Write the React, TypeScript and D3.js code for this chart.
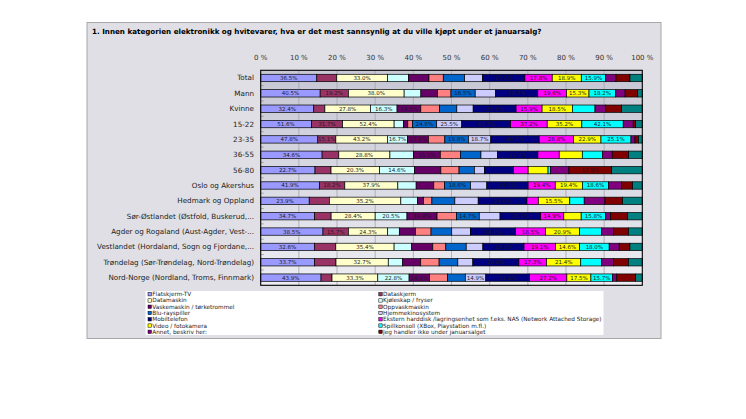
import * as d3 from "d3";

const title =
  "1. Innen kategorien elektronikk og hvitevarer, hva er det mest sannsynlig at du ville kjøpt under et januarsalg?";

const categories = [
  "Total",
  "Mann",
  "Kvinne",
  "15-22",
  "23-35",
  "36-55",
  "56-80",
  "Oslo og Akershus",
  "Hedmark og Oppland",
  "Sør-Østlandet (Østfold, Buskerud,...",
  "Agder og Rogaland (Aust-Agder, Vest-...",
  "Vestlandet (Hordaland, Sogn og Fjordane,...",
  "Trøndelag (Sør-Trøndelag, Nord-Trøndelag)",
  "Nord-Norge (Nordland, Troms, Finnmark)",
];

const seriesNames = [
  "Flatskjerm-TV",
  "Dataskjerm",
  "Datamaskin",
  "Kjøleskap / fryser",
  "Vaskemaskin / tørketrommel",
  "Oppvaskmaskin",
  "Blu-rayspiller",
  "Hjemmekinosystem",
  "Mobiltelefon",
  "Ekstern harddisk /lagringsenhet som f.eks. NAS (Network Attached Storage)",
  "Video / fotokamera",
  "Spillkonsoll (XBox, Playstation m.fl.)",
  "Annet, beskriv her:",
  "Jeg handler ikke under januarsalget",
  "Vet ikke",
];

const seriesColors = [
  "#9999FF", "#993366", "#FFFFCC", "#CCFFFF", "#660066",
  "#FF8080", "#0066CC", "#CCCCFF", "#000080", "#FF00FF",
  "#FFFF00", "#00FFFF", "#800080", "#800000", "#008080",
];

// one array per category, values in series order
const total = [36.5, 13.0, 33.0, 13.6, 13.4, 9.3, 13.9, 11.7, 27.5, 17.8, 18.9, 15.9, 6.7, 9.1, 8.0];
const mann = [40.5, 19.2, 38.0, 11.4, 11.4, 9.1, 16.5, 13.9, 28.7, 19.6, 15.3, 18.2, 6.4, 8.6, 3.1];
const kvinne = [32.4, 6.8, 27.8, 16.3, 14.5, 11.4, 10.6, 10.0, 26.2, 15.9, 18.5, 13.8, 6.6, 9.6, 12.7];
const age15 = [51.6, 31.7, 52.4, 9.5, 4.4, 4.8, 24.6, 25.5, 49.7, 37.2, 35.2, 42.1, 10.2, 2.4, 6.8];
const age23 = [47.8, 15.1, 43.2, 16.7, 17.6, 13.7, 19.8, 18.7, 40.5, 28.8, 22.9, 25.1, 3.4, 2.8, 3.3];
const age36 = [34.6, 9.4, 28.8, 13.2, 15.2, 11.3, 11.6, 9.4, 22.7, 12.0, 13.0, 11.3, 5.6, 9.2, 7.7];
const age56 = [22.7, 6.7, 20.3, 14.6, 11.0, 7.6, 6.4, 4.2, 12.1, 6.2, 8.3, 1.1, 7.6, 17.9, 12.8];
const oslo = [41.9, 18.2, 37.9, 13.1, 12.6, 7.7, 18.6, 11.6, 29.5, 19.4, 19.4, 18.6, 9.5, 7.8, 6.9];
const hedmark = [23.9, 9.9, 35.2, 8.2, 3.0, 4.1, 11.3, 11.5, 24.0, 5.6, 15.5, 7.1, 10.2, 8.7, 9.7];
const sorost = [34.7, 10.7, 28.4, 20.5, 19.4, 12.5, 14.7, 13.4, 26.2, 14.9, 11.2, 15.8, 3.2, 10.8, 9.6];
const agder = [38.5, 15.7, 24.3, 7.2, 9.9, 9.7, 12.8, 11.5, 28.0, 18.5, 20.9, 13.8, 7.2, 9.3, 8.6];
const vestland = [32.6, 13.0, 35.4, 10.7, 12.8, 7.9, 12.4, 10.1, 25.0, 19.1, 14.6, 18.0, 6.1, 6.5, 7.5];
const trondelag = [33.7, 13.4, 32.7, 9.0, 11.3, 11.5, 11.7, 9.4, 28.8, 17.3, 21.4, 13.1, 7.3, 9.4, 8.7];
const nordnorge = [43.9, 8.0, 33.3, 22.8, 14.9, 13.1, 12.9, 14.9, 31.8, 27.2, 17.5, 15.7, 3.1, 13.8, 4.8];

const rows = [total, mann, kvinne, age15, age23, age36, age56, oslo, hedmark, sorost, agder, vestland, trondelag, nordnorge];

const xTicks = [0, 10, 20, 30, 40, 50, 60, 70, 80, 90, 100];
const legendCount = 14; // last series has no legend entry
const labelMin = 14;

const FONT = "'DejaVu Sans', Verdana, sans-serif";

export default function App() {
  const width = 746;
  const height = 419;
  const plot = { left: 260.7, right: 642.3, top: 70.3, bottom: 285.3 };

  const x = d3.scaleLinear().domain([0, 1]).range([plot.left, plot.right]);
  const y = d3
    .scaleBand<string>()
    .domain(categories)
    .range([plot.top, plot.bottom])
    .paddingInner(0.52)
    .paddingOuter(0.26);

  const keys = seriesNames.map((_, i) => `s${i}`);
  const table = categories.map((cat, r) => {
    const rec: Record<string, number | string> = { cat };
    rows[r].forEach((v, i) => (rec[`s${i}`] = v));
    return rec;
  });
  const stacked = d3
    .stack<Record<string, number | string>>()
    .keys(keys)
    .offset(d3.stackOffsetExpand)(table as any);

  const step = y.step();
  const legendRows = Math.ceil(legendCount / 2);

  return (
    <svg
      width={width}
      height={height}
      style={{ position: "absolute", left: 0, top: 0, fontFamily: FONT }}
    >
      <defs>
        <linearGradient id="plotbg" x1="0" y1="0" x2="0" y2="1">
          <stop offset="0" stopColor="#C6C6D4" />
          <stop offset="1" stopColor="#EDEDF3" />
        </linearGradient>
      </defs>
      <rect x={0} y={0} width={width} height={height} fill="#ffffff" />
      <rect
        x={87}
        y={22.5}
        width={574}
        height={316}
        fill="#DFDFE5"
        stroke="#A8A8A8"
        strokeWidth={1}
      />
      <text x={92} y={33.5} fontSize={7.15} fontWeight="bold" fill="#000">
        {title}
      </text>

      {/* plot area */}
      <rect
        x={plot.left}
        y={plot.top}
        width={plot.right - plot.left}
        height={plot.bottom - plot.top}
        fill="url(#plotbg)"
      />
      {xTicks.map((t) => (
        <g key={t}>
          {t > 0 && t < 100 && (
            <line
              x1={x(t / 100)}
              x2={x(t / 100)}
              y1={plot.top}
              y2={plot.bottom}
              stroke="#A4A4AC"
              strokeWidth={0.8}
            />
          )}
          <text
            x={x(t / 100)}
            y={59.5}
            textAnchor="middle"
            fontSize={7}
            fill="#333"
          >
            {`${t} %`}
          </text>
        </g>
      ))}
      {d3.range(1, categories.length).map((i) => (
        <line
          key={i}
          x1={plot.left}
          x2={plot.left + 3}
          y1={plot.top + i * step}
          y2={plot.top + i * step}
          stroke="#8a8a8a"
          strokeWidth={0.7}
        />
      ))}

      {stacked.map((layer, si) => (
        <g key={layer.key}>
          {layer.map((d, ri) => {
            const x0 = x(d[0]);
            const x1 = x(d[1]);
            const yy = y(categories[ri])!;
            const v = rows[ri][si];
            return (
              <g key={ri}>
                <rect
                  x={x0}
                  y={yy}
                  width={Math.max(0, x1 - x0)}
                  height={y.bandwidth()}
                  fill={seriesColors[si]}
                  stroke="#000"
                  strokeWidth={0.7}
                />
                {v >= labelMin && (
                  <text
                    x={(x0 + x1) / 2}
                    y={yy + y.bandwidth() / 2 + 2}
                    textAnchor="middle"
                    fontSize={5.5}
                    fill="#1a1a1a"
                  >
                    {`${v.toFixed(1)}%`}
                  </text>
                )}
              </g>
            );
          })}
        </g>
      ))}

      <rect
        x={plot.left}
        y={plot.top}
        width={plot.right - plot.left}
        height={plot.bottom - plot.top}
        fill="none"
        stroke="#000"
        strokeWidth={1.1}
      />

      {categories.map((c) => (
        <text
          key={c}
          x={254}
          y={y(c)! + y.bandwidth() / 2 + 2.5}
          textAnchor="end"
          fontSize={7.2}
          fill="#222"
        >
          {c}
        </text>
      ))}

      {/* legend */}
      <rect x={145.5} y={291} width={458} height={44} fill="#ffffff" />
      {seriesNames.slice(0, legendCount).map((name, i) => {
        const col = i % 2;
        const row = Math.floor(i / 2);
        const lx = col === 0 ? 148 : 378.8;
        const ly = 294.2 + row * ((331.8 - 294.2) / (legendRows - 1));
        return (
          <g key={name}>
            <rect
              x={lx}
              y={ly - 1.7}
              width={3.4}
              height={3.4}
              fill={seriesColors[i]}
              stroke="#000"
              strokeWidth={0.5}
            />
            <text x={lx + 4.3} y={ly + 2} fontSize={5.75} fill="#222">
              {name}
            </text>
          </g>
        );
      })}
    </svg>
  );
}
